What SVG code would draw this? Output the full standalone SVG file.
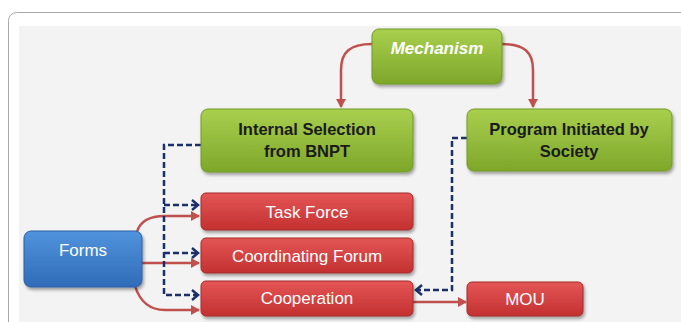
<svg xmlns="http://www.w3.org/2000/svg" width="681" height="322" viewBox="0 0 681 322">
<defs>
<style>
.lbl{font-family:"Liberation Sans",Arial,sans-serif;text-anchor:middle}
.dark{fill:#1a1a1a;font-weight:bold;font-size:16.5px}
.wt{fill:#ffffff;font-size:17px}
.red{fill:none;stroke:#c0504d;stroke-width:2.5}
.dash{fill:none;stroke:#1b2f6b;stroke-width:2.5;stroke-dasharray:6,3}
.gbox{fill:url(#gg);stroke:#6f9a22;stroke-width:1}
.rbox{fill:url(#rg);stroke:#a52a2a;stroke-width:1}
.bbox{fill:url(#bg);stroke:#2a5fa6;stroke-width:1}
</style>
<linearGradient id="gg" x1="0" y1="0" x2="0" y2="1"><stop offset="0" stop-color="#a9cf4e"/><stop offset="1" stop-color="#7ea72a"/></linearGradient>
<linearGradient id="rg" x1="0" y1="0" x2="0" y2="1"><stop offset="0" stop-color="#e45656"/><stop offset="1" stop-color="#c33030"/></linearGradient>
<linearGradient id="bg" x1="0" y1="0" x2="0" y2="1"><stop offset="0" stop-color="#5193dc"/><stop offset="1" stop-color="#2f6cb8"/></linearGradient>
<filter id="sh" x="-10%" y="-10%" width="125%" height="135%"><feDropShadow dx="1.5" dy="2.5" stdDeviation="1.5" flood-color="#000" flood-opacity="0.35"/></filter>
<marker id="ra" markerWidth="10" markerHeight="10" refX="8" refY="5" orient="auto" markerUnits="userSpaceOnUse"><path d="M0,0 L9,5 L0,10 Z" fill="#c0504d"/></marker>
<marker id="ba" markerWidth="10" markerHeight="12" refX="8" refY="6" orient="auto" markerUnits="userSpaceOnUse"><path d="M2,1 L8,6 L2,11" fill="none" stroke="#1b2f6b" stroke-width="2.5"/></marker>
</defs>
<rect x="0" y="0" width="681" height="322" fill="#ffffff"/>
<rect x="8.5" y="12.5" width="700" height="330" rx="8" fill="#ffffff" stroke="#a8a8a8" stroke-width="1"/>
<rect x="19" y="26" width="680" height="310" fill="#f3f3f3"/>
<g id="connectors">
<path class="red" d="M372,44 C350,44 341,52 341,70 V107" marker-end="url(#ra)"/>
<path class="red" d="M502,44 C524,44 533,52 533,70 V107" marker-end="url(#ra)"/>
<path class="red" d="M137,232 C140,221 150,216 165,216 H199" marker-end="url(#ra)"/>
<path class="red" d="M142,263 H199" marker-end="url(#ra)"/>
<path class="red" d="M135,286 C140,302 150,310 165,310 H199" marker-end="url(#ra)"/>
<path class="red" d="M413,302 H466" marker-end="url(#ra)"/>
<path class="dash" d="M201,145 H164 V295 H198" marker-end="url(#ba)"/>
<path class="dash" d="M164,205 H198" marker-end="url(#ba)"/>
<path class="dash" d="M164,253 H198" marker-end="url(#ba)"/>
<path class="dash" d="M467,138 H452 V290 H416" marker-end="url(#ba)"/>
</g>
<g id="mechanism">
<rect class="gbox" x="372" y="29" width="130" height="55" rx="7" filter="url(#sh)"/>
<text class="lbl" x="437" y="54" fill="#ffffff" font-size="17" font-weight="bold" font-style="italic">Mechanism</text>
</g>
<g id="internal">
<rect class="gbox" x="201" y="109" width="212" height="63" rx="7" filter="url(#sh)"/>
<text class="lbl dark" x="307" y="135">Internal Selection</text>
<text class="lbl dark" x="307" y="157">from BNPT</text>
</g>
<g id="program">
<rect class="gbox" x="467" y="109" width="205" height="62" rx="7" filter="url(#sh)"/>
<text class="lbl dark" x="569" y="135">Program Initiated by</text>
<text class="lbl dark" x="569" y="157">Society</text>
</g>
<g id="forms">
<rect class="bbox" x="24" y="231" width="118" height="56" rx="7" filter="url(#sh)"/>
<text class="lbl wt" x="83" y="256">Forms</text>
</g>
<g id="taskforce">
<rect class="rbox" x="201" y="193" width="212" height="37" rx="5" filter="url(#sh)"/>
<text class="lbl wt" x="307" y="218">Task Force</text>
</g>
<g id="coordinating">
<rect class="rbox" x="201" y="238" width="212" height="35" rx="5" filter="url(#sh)"/>
<text class="lbl wt" x="307" y="262">Coordinating Forum</text>
</g>
<g id="cooperation">
<rect class="rbox" x="201" y="281" width="212" height="35" rx="5" filter="url(#sh)"/>
<text class="lbl wt" x="307" y="304">Cooperation</text>
</g>
<g id="mou">
<rect class="rbox" x="467" y="282" width="116" height="34" rx="5" filter="url(#sh)"/>
<text class="lbl wt" x="525" y="305">MOU</text>
</g>
</svg>
